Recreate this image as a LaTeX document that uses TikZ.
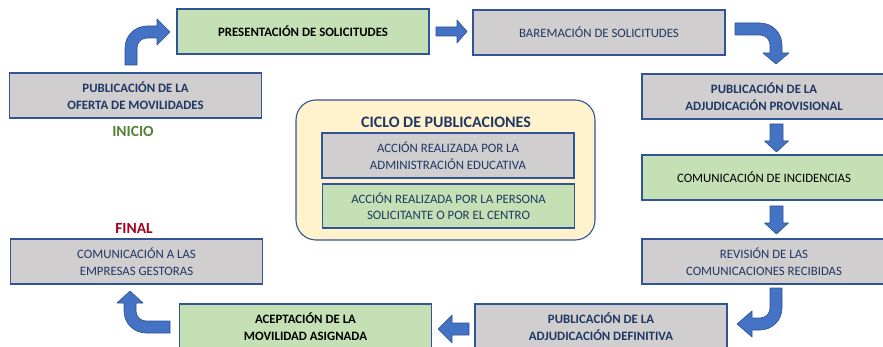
\documentclass[tikz,border=0pt]{standalone}
\usepackage{fontspec}
\setmainfont{Carlito}
\usepackage{tikz}
\usetikzlibrary{calc}
\definecolor{boxgrey}{HTML}{D0CECE}
\definecolor{boxgreen}{HTML}{C5E0B4}
\definecolor{boxyellow}{HTML}{FFF2CC}
\definecolor{boxline}{HTML}{2F5597}
\definecolor{arrfill}{HTML}{4472C4}
\definecolor{arrline}{HTML}{2F528F}
\definecolor{navy}{HTML}{1F3864}
\definecolor{inigreen}{HTML}{548235}
\definecolor{finred}{HTML}{A50021}
\pgfdeclarelayer{background}
\pgfsetlayers{background,main}

\begin{document}
\begin{tikzpicture}[x=1pt, y=-1pt]

    % Frame
    \useasboundingbox (0,0) rectangle (883,347);

    % Boxes
    \tikzset{bx/.style={draw=boxline, line width=1.1pt, inner sep=0pt, align=center, font=\fontsize{12.8}{16.5}\selectfont}}
    \tikzset{gB/.style={bx, fill=boxgrey, text=navy}}
    \tikzset{vB/.style={bx, fill=boxgreen, text=black}}
    \tikzset{wide/.style={minimum width=252pt, minimum height=45pt}}
    \tikzset{side/.style={minimum width=244pt, minimum height=45pt}}

    % Block arrows
    \tikzset{bA/.style={fill=arrfill, draw=arrline, line width=0.6pt, line join=round}}

    % Cycle boxes
    \node (ofe) [gB, wide] at (135.5, 95.5) {\bfseries PUBLICACIÓN DE LA\\\bfseries OFERTA DE MOVILIDADES};
    \node (pre) [vB, wide] at (303, 31.5) {\bfseries PRESENTACIÓN DE SOLICITUDES};
    \node (bar) [gB, wide] at (599, 32.5) {BAREMACIÓN DE SOLICITUDES};
    \node (pro) [gB, side] at (764, 96.5) {\bfseries PUBLICACIÓN DE LA\\\bfseries ADJUDICACIÓN PROVISIONAL};
    \node (inc) [vB, side] at (764, 177.5) {COMUNICACIÓN DE INCIDENCIAS};
    \node (rev) [gB, side] at (764, 261.5) {REVISIÓN DE LAS\\COMUNICACIONES RECIBIDAS};
    \node (def) [gB, wide] at (601, 326.5) {\bfseries PUBLICACIÓN DE LA\\\bfseries ADJUDICACIÓN DEFINITIVA};
    \node (ace) [vB, wide] at (305.5, 326.5) {\bfseries ACEPTACIÓN DE LA\\\bfseries MOVILIDAD ASIGNADA};
    \node (emp) [gB, wide] at (136.5, 261.5) {COMUNICACIÓN A LAS\\EMPRESAS GESTORAS};

    % Start and end
    \node (ini) [text=inigreen, font=\fontsize{15.5}{17}\selectfont\bfseries] at (133, 131) {INICIO};
    \node (fin) [text=finred, font=\fontsize{15.5}{17}\selectfont\bfseries] at (134, 228) {FINAL};

    % Legend
    \node (ley) [draw=boxline, fill=boxyellow, line width=1.1pt, rounded corners=20pt, minimum width=299pt, minimum height=140pt] at (445.5, 170) {};
    \node (leyT) [text=navy, font=\fontsize{16}{18}\selectfont\bfseries] at (446, 122) {CICLO DE PUBLICACIONES};
    \node (leyA) [gB, minimum width=252pt, minimum height=45pt] at (448, 155.5) {ACCIÓN REALIZADA POR LA\\ADMINISTRACIÓN EDUCATIVA};
    \node (leyB) [gB, fill=boxgreen, minimum width=252pt, minimum height=44pt] at (448.5, 206) {ACCIÓN REALIZADA POR LA PERSONA\\SOLICITANTE O POR EL CENTRO};

    % Arrows between boxes
    \draw[bA] (125,65) -- (125,48) arc[start angle=180, end angle=270, radius=22] -- (157,26) -- (157,19) -- (170,32) -- (157,45) -- (157,38) -- (147,38) arc[start angle=270, end angle=180, radius=10] -- (137,65) -- cycle;
    \draw[bA] (436,27) -- (457,27) -- (457,20) -- (467,31.5) -- (457,43) -- (457,36) -- (436,36) -- cycle;
    \draw[bA] (735,23) -- (760,23) arc[start angle=270, end angle=360, radius=22] -- (782,53) -- (789,53) -- (776,64) -- (763,53) -- (770,53) -- (770,45) arc[start angle=0, end angle=-90, radius=10] -- (735,35) -- cycle;
        \draw[bA] (770,124) -- (783,124) -- (783,141) -- (788.5,141) -- (776.5,152) -- (764.5,141) -- (770,141) -- cycle;
        \draw[bA] (770,206) -- (783,206) -- (783,223) -- (788.5,223) -- (776.5,234) -- (764.5,223) -- (770,223) -- cycle;
    \draw[bA] (770,288) -- (782,288) -- (782,308) arc[start angle=0, end angle=90, radius=22] -- (752,330) -- (752,337) -- (737,324) -- (752,311) -- (752,318) -- (760,318) arc[start angle=90, end angle=0, radius=10] -- cycle;
    \draw[bA] (469,323) -- (452,323) -- (452,315) -- (438,329) -- (452,343) -- (452,335) -- (469,335) -- cycle;
    \draw[bA] (170,321) -- (146,321) arc[start angle=90, end angle=180, radius=10] -- (136,303) -- (143,303) -- (130,291) -- (117,303) -- (124,303) -- (124,311) arc[start angle=180, end angle=90, radius=22] -- (170,333) -- cycle;

\end{tikzpicture}
\end{document}
